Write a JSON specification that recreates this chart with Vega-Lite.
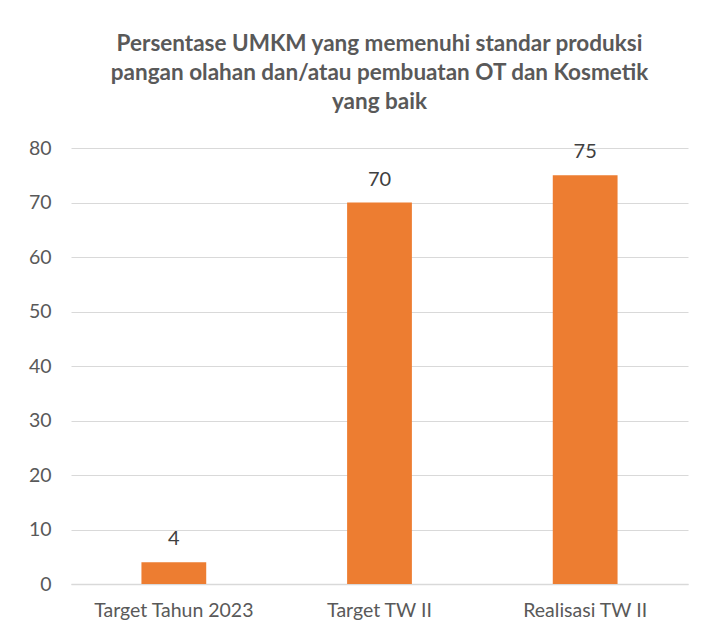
{
  "$schema": "https://vega.github.io/schema/vega-lite/v6.json",
  "autosize": {"type": "none"},
  "width": 617,
  "height": 436,
  "padding": {"left": 71, "top": 148, "right": 16, "bottom": 53},
  "background": "white",
  "title": {
    "text": ["Persentase UMKM yang memenuhi standar produksi", "pangan olahan dan/atau pembuatan OT dan Kosmetik", "yang baik"],
    "anchor": "middle",
    "font": "Lato",
    "fontSize": 22.5,
    "fontWeight": "bold",
    "color": "#595959",
    "lineHeight": 29,
    "offset": 25
  },
  "data": {
    "values": [
      {"kategori": "Target Tahun 2023", "nilai": 4},
      {"kategori": "Target TW II", "nilai": 70},
      {"kategori": "Realisasi TW II", "nilai": 75}
    ]
  },
  "encoding": {
    "x": {
      "field": "kategori",
      "type": "nominal",
      "sort": null,
      "title": null,
      "scale": {"paddingInner": 0.685, "paddingOuter": 0.3425},
      "axis": {
        "labelAngle": 0,
        "labelFont": "Lato",
        "labelFontSize": 19.5,
        "labelColor": "#595959",
        "labelPadding": 17,
        "ticks": false,
        "tickSize": 0,
        "domainColor": "#d9d9d9",
        "domainWidth": 1.5,
        "grid": false
      }
    },
    "y": {
      "field": "nilai",
      "type": "quantitative",
      "title": null,
      "scale": {"domain": [0, 80], "nice": false},
      "axis": {
        "values": [0, 10, 20, 30, 40, 50, 60, 70, 80],
        "labelFont": "Lato",
        "labelFontSize": 19.5,
        "labelColor": "#595959",
        "labelPadding": 20,
        "ticks": false,
        "tickSize": 0,
        "domain": false,
        "gridColor": "#d9d9d9",
        "gridWidth": 1
      }
    }
  },
  "layer": [
    {"mark": {"type": "bar", "color": "#ED7D31"}},
    {
      "mark": {"type": "text", "baseline": "alphabetic", "dy": -17, "font": "Lato", "fontSize": 20, "color": "#404040"},
      "encoding": {"text": {"field": "nilai", "type": "quantitative"}}
    }
  ],
  "config": {"view": {"stroke": null}}
}
